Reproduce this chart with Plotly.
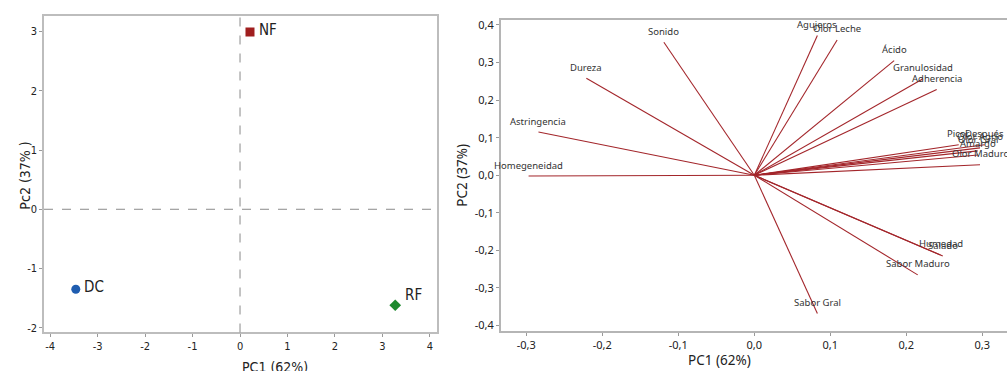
import plotly.graph_objects as go

# ---------------- data ----------------
# Left panel: scores
score_names = ["NF", "DC", "RF"]
score_pc1 = [0.21, -3.46, 3.27]
score_pc2 = [2.99, -1.35, -1.62]
score_colors = ["#A01E1E", "#1F5DB0", "#1E8A2E"]
score_symbols = ["square", "circle", "diamond"]

left_xticks = [-4, -3, -2, -1, 0, 1, 2, 3, 4]
left_xtick_text = ["-4", "-3", "-2", "-1", "0", "1", "2", "3", "4"]
left_yticks = [-2, -1, 0, 1, 2, 3]
left_ytick_text = ["-2", "-1", "0", "1", "2", "3"]

# Right panel: loadings
var_names = ["Sonido", "Dureza", "Astringencia", "Homegeneidad", "Agujeros",
             "Olor Leche", "Ácido", "Granulosidad", "Adherencia", "Picor",
             "Después", "Olor Agrio", "Olor Gral", "Amargo", "Olor Maduro",
             "Humedad", "Salado", "Sabor Maduro", "Sabor Gral"]
load_pc1 = [-0.119, -0.221, -0.284, -0.297, 0.083,
            0.109, 0.184, 0.222, 0.240, 0.269,
            0.303, 0.297, 0.294, 0.294, 0.297,
            0.245, 0.248, 0.215, 0.083]
load_pc2 = [0.354, 0.258, 0.115, -0.002, 0.372,
            0.360, 0.305, 0.257, 0.228, 0.081,
            0.081, 0.073, 0.065, 0.054, 0.028,
            -0.212, -0.215, -0.265, -0.368]

right_xticks = [-0.3, -0.2, -0.1, 0.0, 0.1, 0.2, 0.3]
right_xtick_text = ["-0,3", "-0,2", "-0,1", "0,0", "0,1", "0,2", "0,3"]
right_yticks = [-0.4, -0.3, -0.2, -0.1, 0.0, 0.1, 0.2, 0.3, 0.4]
right_ytick_text = ["-0,4", "-0,3", "-0,2", "-0,1", "0,0", "0,1", "0,2", "0,3", "0,4"]

# ---------------- figure ----------------
W, H = 1007, 371
NARROW = "Liberation Sans Narrow, DejaVu Sans Condensed, Arial Narrow, sans-serif"
SANS = "Noto Sans, Open Sans, sans-serif"
VEC_COLOR = "#A3262B"

fig = go.Figure()

# left panel points
for n, x, y, c, s in zip(score_names, score_pc1, score_pc2, score_colors, score_symbols):
    fig.add_trace(go.Scatter(x=[x], y=[y], mode="markers", xaxis="x", yaxis="y",
                             marker=dict(color=c, symbol=s, size=9, line=dict(width=0)),
                             showlegend=False, hoverinfo="skip"))

label_shift = {"NF": (7, 2), "DC": (6, 2), "RF": (8, 10)}
for n, x, y in zip(score_names, score_pc1, score_pc2):
    dx, dy = label_shift[n]
    fig.add_annotation(x=x, y=y, xref="x", yref="y", text=n, showarrow=False,
                       xanchor="left", yanchor="middle", xshift=dx, yshift=dy,
                       font=dict(family=NARROW, size=15, color="#222"))

# right panel vectors
vx, vy = [], []
for a, b in zip(load_pc1, load_pc2):
    vx += [0, a, None]
    vy += [0, b, None]
fig.add_trace(go.Scatter(x=vx, y=vy, mode="lines", xaxis="x2", yaxis="y2",
                         line=dict(color=VEC_COLOR, width=1.1),
                         showlegend=False, hoverinfo="skip"))
for n, a, b in zip(var_names, load_pc1, load_pc2):
    fig.add_annotation(x=a, y=b, xref="x2", yref="y2", text=n, showarrow=False,
                       xanchor="center", yanchor="middle", yshift=11,
                       font=dict(family=SANS, size=9.5, color="#333"))

# reference lines left panel
fig.add_shape(type="line", xref="x", yref="paper", x0=0, x1=0,
              y0=(H - 334) / H, y1=(H - 12.7) / H,
              line=dict(color="#8a8a8a", width=1, dash="dash"))
fig.add_shape(type="line", xref="paper", yref="y", x0=44 / W, x1=437 / W, y0=0, y1=0,
              line=dict(color="#8a8a8a", width=1, dash="dash"))

# axis titles (as annotations for precise placement)
fig.add_annotation(x=15 / W, y=(H - 175) / H, xref="paper", yref="paper",
                   text="Pc2 (37% )", textangle=-90, showarrow=False,
                   font=dict(family=NARROW, size=14, color="#222"))
fig.add_annotation(x=240 / W, y=(H - 369) / H, xref="paper", yref="paper",
                   text="PC1 (62%)", showarrow=False, yanchor="middle",
                   font=dict(family=NARROW, size=14, color="#222"))
fig.add_annotation(x=462 / W, y=(H - 175) / H, xref="paper", yref="paper",
                   text="PC2 (37%)", textangle=-90, showarrow=False,
                   font=dict(family=SANS, size=13.5, color="#222"))
fig.add_annotation(x=753 / W, y=(H - 362) / H, xref="paper", yref="paper",
                   text="PC1 (62%)", showarrow=False, yanchor="middle",
                   font=dict(family=SANS, size=13.5, color="#222"))

left_axis = dict(showgrid=False, zeroline=False, showline=True, mirror=True,
                 linecolor="#bdbdbd", linewidth=1.5, ticks="outside", ticklen=3,
                 tickcolor="#999", tickfont=dict(family=NARROW, size=11, color="#222"))
right_axis = dict(showgrid=False, zeroline=False, showline=True,
                  linecolor="#b5b5b5", linewidth=1.5, ticks="outside", ticklen=3,
                  tickcolor="#999", tickfont=dict(family=SANS, size=11, color="#222"))

fig.update_layout(
    width=W, height=H,
    margin=dict(l=0, r=0, t=0, b=0),
    paper_bgcolor="white", plot_bgcolor="white",
    xaxis=dict(left_axis, domain=[44 / W, 437 / W], range=[-4.13, 4.15],
               tickvals=left_xticks, ticktext=left_xtick_text, anchor="y"),
    yaxis=dict(left_axis, domain=[(H - 334) / H, (H - 12.7) / H], range=[-2.08, 3.27],
               tickvals=left_yticks, ticktext=left_ytick_text, anchor="x"),
    xaxis2=dict(right_axis, mirror=True, domain=[500.7 / W, 1.0], range=[-0.3337, 0.3325],
                tickvals=right_xticks, ticktext=right_xtick_text, anchor="y2"),
    yaxis2=dict(right_axis, mirror=False, domain=[(H - 332.7) / H, (H - 17.3) / H],
                range=[-0.415, 0.413],
                tickvals=right_yticks, ticktext=right_ytick_text, anchor="x2"),
)

fig.write_html(
    "out.html",
    config={"displayModeBar": False},
    post_script="document.body.style.margin='0';document.body.style.overflow='hidden';",
)
